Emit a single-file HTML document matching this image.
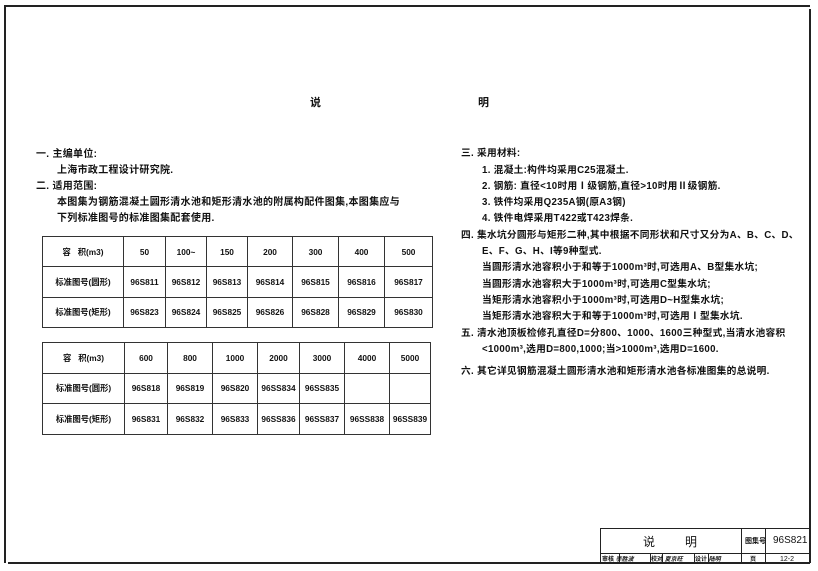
<!DOCTYPE html>
<html><head><meta charset="utf-8"><style>
body{margin:0;width:818px;height:571px;background:#fff;position:relative;overflow:hidden;font-family:"Liberation Sans","Noto Sans CJK SC",sans-serif;color:#111}
.t{position:absolute;font-size:10px;font-weight:bold;white-space:nowrap;line-height:12px;letter-spacing:0.3px}
.r{letter-spacing:0.3px;font-size:9.7px}
.ln{position:absolute;background:#222}
table{position:absolute;border-collapse:collapse;font-size:8.3px;font-weight:bold;table-layout:fixed}
td{border:1.3px solid #333;text-align:center;padding:0;white-space:nowrap;overflow:hidden;letter-spacing:0}
</style></head><body>
<div class="ln" style="left:4px;top:5px;width:806px;height:1.5px"></div>
<div class="ln" style="left:4px;top:5px;width:1.5px;height:558px"></div>
<div class="ln" style="left:809px;top:9px;width:1.5px;height:554px"></div>
<div class="ln" style="left:8px;top:562px;width:802px;height:1.5px"></div>

<div class="t" style="left:310px;top:97px;font-size:11px">说</div>
<div class="t" style="left:478px;top:97px;font-size:11px">明</div>

<div class="t" style="left:36px;top:149px">一. 主编单位:</div>
<div class="t" style="left:57px;top:165px">上海市政工程设计研究院.</div>
<div class="t" style="left:36px;top:181px">二. 适用范围:</div>
<div class="t" style="left:57px;top:197px">本图集为钢筋混凝土圆形清水池和矩形清水池的附属构配件图集,本图集应与</div>
<div class="t" style="left:57px;top:213px">下列标准图号的标准图集配套使用.</div>

<table style="left:42px;top:236px;width:390px;height:92px">
<colgroup><col style="width:81px"><col style="width:42px"><col style="width:41px"><col style="width:41px"><col style="width:45px"><col style="width:46px"><col style="width:46px"><col style="width:48px"></colgroup>
<tr><td>容 &nbsp; 积(m3)</td><td>50</td><td>100~</td><td>150</td><td>200</td><td>300</td><td>400</td><td>500</td></tr>
<tr><td>标准图号(圆形)</td><td>96S811</td><td>96S812</td><td>96S813</td><td>96S814</td><td>96S815</td><td>96S816</td><td>96S817</td></tr>
<tr><td>标准图号(矩形)</td><td>96S823</td><td>96S824</td><td>96S825</td><td>96S826</td><td>96S828</td><td>96S829</td><td>96S830</td></tr>
</table>

<table style="left:42px;top:342px;width:388px;height:93px">
<colgroup><col style="width:82px"><col style="width:43px"><col style="width:45px"><col style="width:45px"><col style="width:42px"><col style="width:45px"><col style="width:45px"><col style="width:41px"></colgroup>
<tr><td>容 &nbsp; 积(m3)</td><td>600</td><td>800</td><td>1000</td><td>2000</td><td>3000</td><td>4000</td><td>5000</td></tr>
<tr><td>标准图号(圆形)</td><td>96S818</td><td>96S819</td><td>96S820</td><td>96SS834</td><td>96SS835</td><td></td><td></td></tr>
<tr><td>标准图号(矩形)</td><td>96S831</td><td>96S832</td><td>96S833</td><td>96SS836</td><td>96SS837</td><td>96SS838</td><td>96SS839</td></tr>
</table>

<div class="t r" style="left:461px;top:148px">三. 采用材料:</div>
<div class="t r" style="left:482px;top:165px">1. 混凝土:构件均采用C25混凝土.</div>
<div class="t r" style="left:482px;top:181px">2. 钢筋: 直径&lt;10时用Ⅰ级钢筋,直径&gt;10时用Ⅱ级钢筋.</div>
<div class="t r" style="left:482px;top:197px">3. 铁件均采用Q235A钢(原A3钢)</div>
<div class="t r" style="left:482px;top:213px">4. 铁件电焊采用T422或T423焊条.</div>
<div class="t r" style="left:461px;top:230px">四. 集水坑分圆形与矩形二种,其中根据不同形状和尺寸又分为A、B、C、D、</div>
<div class="t r" style="left:482px;top:246px">E、F、G、H、I等9种型式.</div>
<div class="t r" style="left:482px;top:262px">当圆形清水池容积小于和等于1000m³时,可选用A、B型集水坑;</div>
<div class="t r" style="left:482px;top:279px">当圆形清水池容积大于1000m³时,可选用C型集水坑;</div>
<div class="t r" style="left:482px;top:295px">当矩形清水池容积小于1000m³时,可选用D~H型集水坑;</div>
<div class="t r" style="left:482px;top:311px">当矩形清水池容积大于和等于1000m³时,可选用Ⅰ型集水坑.</div>
<div class="t r" style="left:461px;top:328px">五. 清水池顶板检修孔直径D=分800、1000、1600三种型式,当清水池容积</div>
<div class="t r" style="left:482px;top:344px">&lt;1000m³,选用D=800,1000;当&gt;1000m³,选用D=1600.</div>
<div class="t r" style="left:461px;top:366px">六. 其它详见钢筋混凝土圆形清水池和矩形清水池各标准图集的总说明.</div>

<div class="ln" style="left:600px;top:528px;width:209px;height:1.3px"></div>
<div class="ln" style="left:600px;top:528px;width:1.3px;height:35px"></div>
<div class="ln" style="left:600px;top:553px;width:209px;height:1px"></div>
<div class="ln" style="left:741px;top:528px;width:1.3px;height:35px"></div>
<div class="ln" style="left:765px;top:528px;width:1.3px;height:35px"></div>
<div class="ln" style="left:619px;top:553px;width:1px;height:10px"></div>
<div class="ln" style="left:650px;top:553px;width:1px;height:10px"></div>
<div class="ln" style="left:662px;top:553px;width:1px;height:10px"></div>
<div class="ln" style="left:694px;top:553px;width:1px;height:10px"></div>
<div class="ln" style="left:708px;top:553px;width:1px;height:10px"></div>
<div class="t" style="left:643px;top:536px;font-size:12px;font-weight:normal">说</div>
<div class="t" style="left:685px;top:536px;font-size:12px;font-weight:normal">明</div>
<div class="t" style="left:745px;top:536px;font-size:7px;letter-spacing:0">图集号</div>
<div class="t" style="left:773px;top:535px;font-size:10px;font-weight:normal;letter-spacing:0">96S821</div>
<div class="t" style="left:602px;top:554px;font-size:6px;letter-spacing:0">审核 <span style="font-style:italic">李胜波</span></div>
<div class="t" style="left:651px;top:554px;font-size:6px;letter-spacing:0">校对 <span style="font-style:italic">夏京旺</span></div>
<div class="t" style="left:695px;top:554px;font-size:6px;letter-spacing:0">设计 <span style="font-style:italic">陆明</span></div>
<div class="t" style="left:750px;top:554px;font-size:6px;letter-spacing:0">页</div>
<div class="t" style="left:780px;top:554px;font-size:7px;font-weight:normal;letter-spacing:0">12-2</div>
</body></html>
